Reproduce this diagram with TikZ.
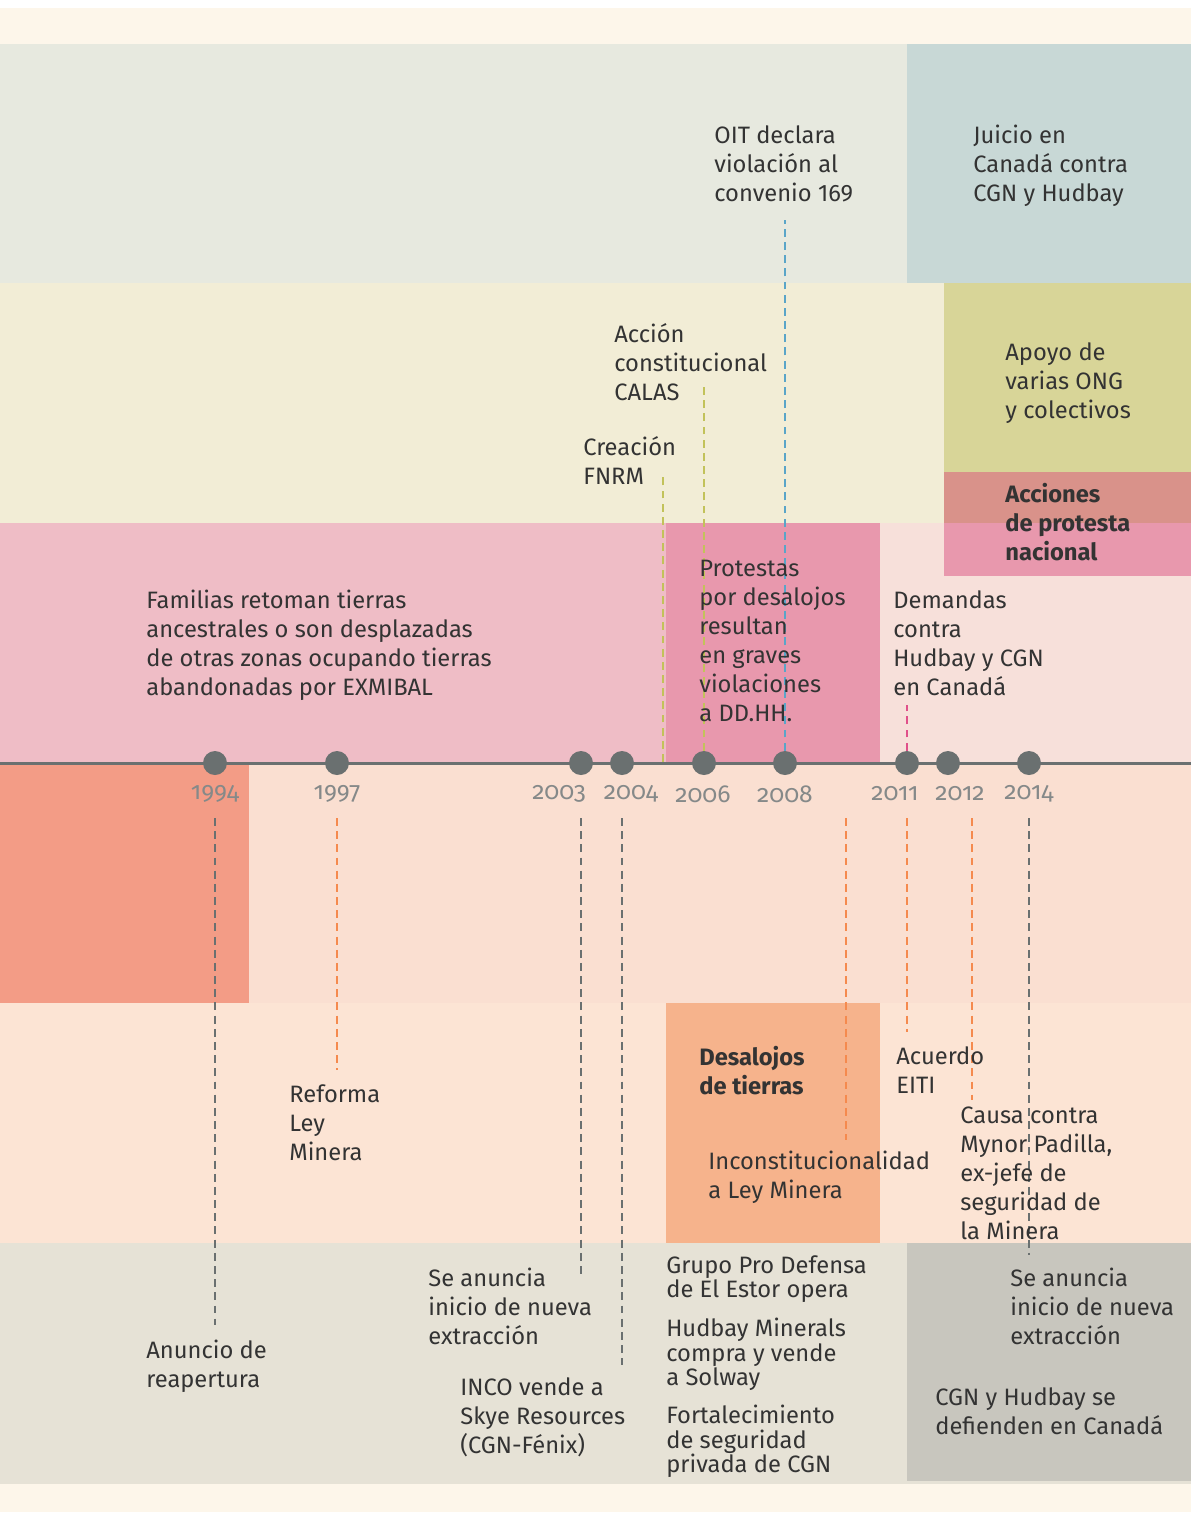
\documentclass[tikz,border=0pt]{standalone}
\usepackage{fontspec}
\setmainfont{Fira Sans}
\usetikzlibrary{positioning}
\definecolor{cream}{HTML}{FDF6EA}
\definecolor{bandA}{HTML}{E7E9DF}
\definecolor{bandAr}{HTML}{C8D8D6}
\definecolor{bandB}{HTML}{F2EDD6}
\definecolor{bandBr}{HTML}{D8D598}
\definecolor{protA}{HTML}{D9928A}
\definecolor{bandC}{HTML}{EFBDC6}
\definecolor{bandCm}{HTML}{E898AD}
\definecolor{bandCr}{HTML}{F7E0DA}
\definecolor{bandD}{HTML}{FADFD1}
\definecolor{bandDl}{HTML}{F39C86}
\definecolor{bandE}{HTML}{FCE4D4}
\definecolor{bandEm}{HTML}{F6B38C}
\definecolor{bandF}{HTML}{E6E2D6}
\definecolor{bandFr}{HTML}{C8C6BE}
\definecolor{dgrey}{HTML}{6A7070}
\definecolor{ygrey}{HTML}{858989}
\definecolor{orng}{HTML}{F58A4E}
\definecolor{olive}{HTML}{C2C25A}
\definecolor{skyb}{HTML}{5AA5C8}
\definecolor{rose}{HTML}{E0508A}
\definecolor{ink}{HTML}{333333}
\tikzset{
  txt/.style={anchor=north west,inner sep=0pt,align=left,text=ink,font=\fontsize{13.5}{16.5}\selectfont},
  tight/.style={txt,font=\fontsize{13.5}{13.8}\selectfont},
  boldtxt/.style={txt,font=\fontsize{13.5}{16.5}\selectfont\bfseries},
  dot/.style={circle,fill=dgrey,inner sep=0pt,minimum size=0.48cm},
  year/.style={inner sep=0pt,text=ygrey,font=\fontsize{14}{15}\selectfont\addfontfeatures{Numbers=OldStyle}},
  link/.style={dash pattern=on 4.5pt off 3pt,line width=1.5pt},
}
\begin{document}
\begin{tikzpicture}[x=0.02cm,y=-0.02cm]
\useasboundingbox (0,0) rectangle (1191,1516);
\fill[white] (0,0) rectangle (1191,1516);
\fill[cream] (0,8) rectangle (1191,1512);
% bands
\fill[bandA] (0,44) rectangle (907,283);
\fill[bandAr] (907,44) rectangle (1191,283);
\fill[bandB] (0,283) rectangle (944,523);
\fill[bandBr] (944,283) rectangle (1191,472);
\fill[protA] (944,472) rectangle (1191,523);
\fill[bandC] (0,523) rectangle (666,763);
\fill[bandCm] (666,523) rectangle (880,763);
\fill[bandCr] (880,523) rectangle (1191,763);
\fill[bandCm] (944,523) rectangle (1191,576);
\fill[bandDl] (0,763) rectangle (249,1003);
\fill[bandD] (249,763) rectangle (1191,1003);
\fill[bandE] (0,1003) rectangle (1191,1243);
\fill[bandEm] (666,1003) rectangle (880,1243);
\fill[bandF] (0,1243) rectangle (1191,1484);
\fill[bandFr] (907,1243) rectangle (1191,1481);

% timeline
\coordinate (tl) at (0,763);
\coordinate (tr) at (1191,763);
\draw[dgrey,line width=1.7pt] (tl) -- (tr);
\foreach \x/\lx/\yr in {215/215/1994,337/337/1997,581/559/2003,622/631/2004,704/703/2006,
  785/785/2008,907/895/2011,948/960/2012,1029/1029/2014}{
  \node[dot] (d\yr) at (\x,763) {};
  \node[year] (y\yr) at (\lx,794) {\yr};
}

% loose ends of the dashed links
\coordinate (fnrmTop) at (663,475);
\coordinate (fnrmBot) at (663,762);
\coordinate (t2006) at (704,383);
\coordinate (t2008) at (785,220);
\coordinate (t2011) at (907,705);
\coordinate (e1994) at (215,1325);
\coordinate (e1997) at (337,1070);
\coordinate (e2003) at (581,1278);
\coordinate (e2004) at (622,1365);
\coordinate (s2009) at (846,818);
\coordinate (e2009) at (846,1140);
\coordinate (e2011) at (907,1032);
\coordinate (s2012) at (972,818);
\coordinate (e2012) at (972,1100);
\coordinate (e2014) at (1029,1255);

\draw[link,olive] (fnrmBot) -- (fnrmTop);
\draw[link,olive] (d2006.north) -- (t2006);
\draw[link,skyb] (d2008.north) -- (t2008);
\draw[link,rose] (d2011.north) -- (t2011);
\draw[link,dgrey] ([yshift=-1.1cm]d1994.center) -- (e1994);
\draw[link,orng] ([yshift=-1.1cm]d1997.center) -- (e1997);
\draw[link,dgrey] ([yshift=-1.1cm]d2003.center) -- (e2003);
\draw[link,dgrey] ([yshift=-1.1cm]d2004.center) -- (e2004);
\draw[link,orng] (s2009) -- (e2009);
\draw[link,orng] ([yshift=-1.1cm]d2011.center) -- (e2011);
\draw[link,orng] (s2012) -- (e2012);
\draw[link,dgrey] ([yshift=-1.1cm]d2014.center) -- (e2014);

% texts above the line
\node[txt] (oit) at (714,125) {OIT declara\\violación al\\convenio 169};
\node[txt] (juicio) at (973,125) {Juicio en\\Canadá contra\\CGN y Hudbay};
\node[txt] (calas) at (614,323) {Acción\\constitucional\\CALAS};
\node[txt] (crea) at (583,436) {Creación\\FNRM};
\node[txt] (apoyo) at (1005,342) {Apoyo de\\varias ONG\\y colectivos};
\node[boldtxt] (acc) at (1005,483) {Acciones\\de protesta\\nacional};
\node[txt] (fam) at (146,590) {Familias retoman tierras\\ancestrales o son desplazadas\\de otras zonas ocupando tierras\\abandonadas por EXMIBAL};
\node[txt] (prot) at (699,560) {Protestas\\por desalojos\\resultan\\en graves\\violaciones\\a DD.HH.};
\node[txt] (dem) at (893,590) {Demandas\\contra\\Hudbay y CGN\\en Canadá};

% texts below the line
\node[boldtxt] (desa) at (699,1046) {Desalojos\\de tierras};
\node[txt] (eiti) at (896,1046) {Acuerdo\\EITI};
\node[txt] (ley) at (289,1084) {Reforma\\Ley\\Minera};
\node[txt] (causa) at (960,1107) {Causa contra\\Mynor Padilla,\\ex-jefe de\\seguridad de\\la Minera};
\node[txt] (incons) at (708,1151) {Inconstitucionalidad\\a Ley Minera};
\node[txt] (anun) at (428,1268) {Se anuncia\\inicio de nueva\\extracción};
\node[txt] (reap) at (146,1340) {Anuncio de\\reapertura};
\node[txt] (inco) at (460,1377) {INCO vende a\\Skye Resources\\(CGN-Fénix)};
\node[tight] (grupo) at (666,1255) {Grupo Pro Defensa\\de El Estor opera};
\node[tight] (hud) at (666,1318) {Hudbay Minerals\\compra y vende\\a Solway};
\node[tight] (fort) at (666,1405) {Fortalecimiento\\de seguridad\\privada de CGN};
\node[txt] (anun2) at (1010,1268) {Se anuncia\\inicio de nueva\\extracción};
\node[txt] (defi) at (935,1387) {CGN y Hudbay se\\defienden en Canadá};
\end{tikzpicture}
\end{document}
